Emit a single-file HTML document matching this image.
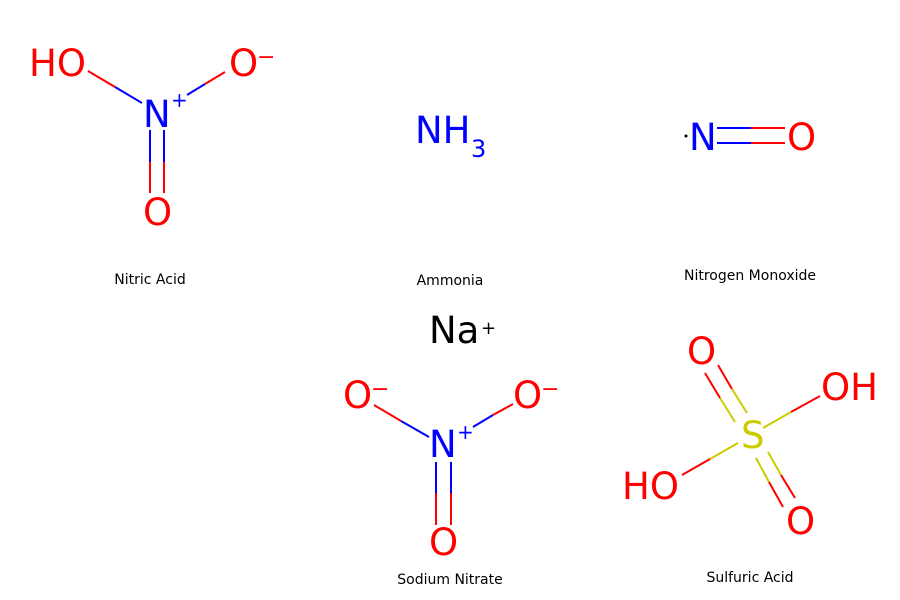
<!DOCTYPE html>
<html><head><meta charset="utf-8"><style>html,body{margin:0;padding:0;background:#fff}svg{display:block}</style></head>
<body>
<svg width="900" height="600" viewBox="0 0 900 600" xmlns="http://www.w3.org/2000/svg" font-family="DejaVu Sans, Liberation Sans, sans-serif">
<rect width="900" height="600" fill="#fff"/>
<g stroke-width="2" fill="none">
<line x1="88" y1="71" x2="115" y2="87" stroke="#f00"/><line x1="115" y1="87" x2="142" y2="103" stroke="#00f"/>
<line x1="187" y1="95" x2="205" y2="84" stroke="#00f"/><line x1="205" y1="84" x2="225" y2="72" stroke="#f00"/>
<line x1="150" y1="130" x2="150" y2="162" stroke="#00f"/><line x1="150" y1="162" x2="150" y2="193" stroke="#f00"/>
<line x1="164" y1="130" x2="164" y2="162" stroke="#00f"/><line x1="164" y1="162" x2="164" y2="193" stroke="#f00"/>
<line x1="717" y1="128" x2="751" y2="128" stroke="#00f"/><line x1="751" y1="128" x2="785" y2="128" stroke="#f00"/>
<line x1="717" y1="143" x2="751" y2="143" stroke="#00f"/><line x1="751" y1="143" x2="785" y2="143" stroke="#f00"/>
<line x1="374" y1="405" x2="401" y2="421" stroke="#f00"/><line x1="401" y1="421" x2="429" y2="437" stroke="#00f"/>
<line x1="473" y1="427" x2="493" y2="415" stroke="#00f"/><line x1="493" y1="415" x2="513" y2="404" stroke="#f00"/>
<line x1="436" y1="462" x2="436" y2="493" stroke="#00f"/><line x1="436" y1="493" x2="436" y2="525" stroke="#f00"/>
<line x1="451" y1="462" x2="451" y2="493" stroke="#00f"/><line x1="451" y1="493" x2="451" y2="525" stroke="#f00"/>
<line x1="705" y1="373" x2="720" y2="398" stroke="#f00"/><line x1="720" y1="398" x2="735" y2="422" stroke="#cc0"/>
<line x1="718" y1="365" x2="732" y2="389" stroke="#f00"/><line x1="732" y1="389" x2="747" y2="413" stroke="#cc0"/>
<line x1="763" y1="428" x2="791" y2="412" stroke="#cc0"/><line x1="791" y1="412" x2="820" y2="396" stroke="#f00"/>
<line x1="738" y1="443" x2="710" y2="459" stroke="#cc0"/><line x1="710" y1="459" x2="682" y2="475" stroke="#f00"/>
<line x1="756" y1="458" x2="769" y2="482" stroke="#cc0"/><line x1="769" y1="482" x2="783" y2="507" stroke="#f00"/>
<line x1="768" y1="452" x2="781" y2="475" stroke="#cc0"/><line x1="781" y1="475" x2="795" y2="498" stroke="#f00"/>
</g>
<g font-size="37">
<text x="29" y="76" fill="#f00">HO</text>
<text x="143" y="127" fill="#00f">N</text>
<text x="171" y="107" font-size="20" fill="#00f">+</text>
<text x="229" y="76" fill="#f00">O</text>
<text x="257" y="64" font-size="22" fill="#f00">−</text>
<text x="143" y="225" fill="#f00">O</text>

<text x="415" y="143" fill="#00f">NH</text>
<text x="471" y="157" font-size="24" fill="#00f">3</text>

<circle cx="686" cy="136" r="1.5" fill="#000"/>
<text x="689" y="150" fill="#00f">N</text>
<text x="787" y="150" fill="#f00">O</text>

<text x="429" y="343" fill="#000">Na</text>
<text x="481" y="334" font-size="18" fill="#000">+</text>

<text x="343" y="408" fill="#f00">O</text>
<text x="371" y="396" font-size="22" fill="#f00">−</text>
<text x="513" y="408" fill="#f00">O</text>
<text x="541" y="396" font-size="22" fill="#f00">−</text>
<text x="429" y="457" fill="#00f">N</text>
<text x="457" y="439" font-size="20" fill="#00f">+</text>
<text x="429" y="555" fill="#f00">O</text>

<text x="687" y="364" fill="#f00">O</text>
<text x="741" y="448" fill="#cc0">S</text>
<text x="821" y="400" fill="#f00">OH</text>
<text x="622" y="499" fill="#f00">HO</text>
<text x="786" y="534" fill="#f00">O</text>
</g>
<g font-size="14" fill="#000" text-anchor="middle">
<text x="150" y="284">Nitric Acid</text>
<text x="450" y="285">Ammonia</text>
<text x="750" y="280">Nitrogen Monoxide</text>
<text x="450" y="584">Sodium Nitrate</text>
<text x="750" y="582">Sulfuric Acid</text>
</g>
</svg>
</body></html>
